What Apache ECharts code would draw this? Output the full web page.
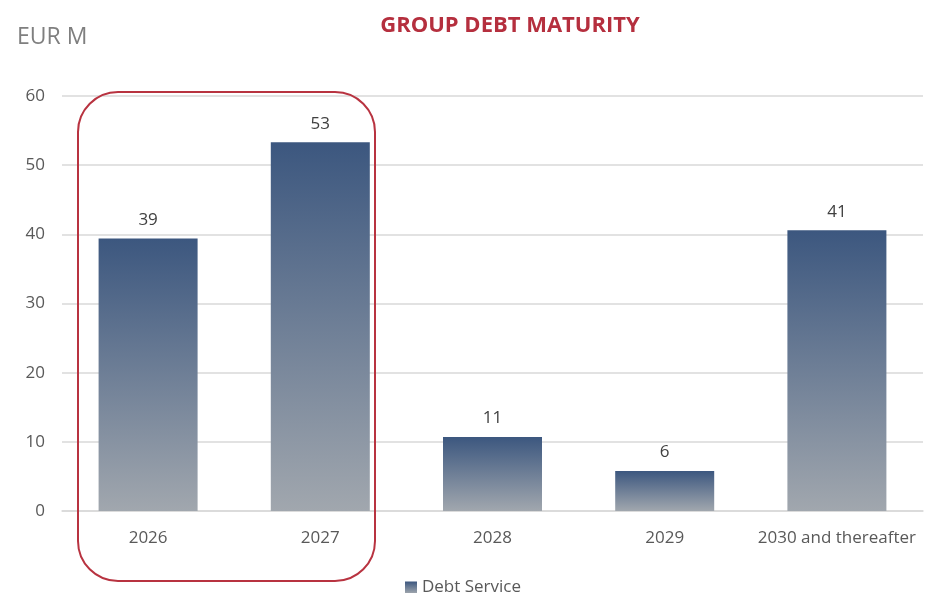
<!DOCTYPE html>
<html>
<head>
<meta charset="utf-8">
<script src="https://cdn.jsdelivr.net/npm/echarts@6/dist/echarts.min.js"></script>
<style>
  html, body { margin: 0; padding: 0; background: #fff; }
  #chart { width: 926px; height: 593px; }
</style>
</head>
<body>
<div id="chart"></div>
<script>
// 数据
var categories = ['2026', '2027', '2028', '2029', '2030 and thereafter'];
var debtService = [39.4, 53.3, 10.7, 5.8, 40.6];
var yTicks = { min: 0, max: 60, interval: 10 };

var chart = echarts.init(document.getElementById('chart'));
var font = '"Open Sans", "Noto Sans", sans-serif';

var barFill = new echarts.graphic.LinearGradient(0, 0, 0, 1, [
  { offset: 0, color: '#3c577f' },
  { offset: 1, color: '#a1a7ae' }
]);

var option = {
  animation: false,
  textStyle: { fontFamily: font },
  title: [
    {
      text: 'GROUP DEBT MATURITY',
      left: 505, top: 10, textAlign: 'center',
      textStyle: { color: '#b52f3e', fontSize: 22, fontWeight: 'bold', fontFamily: font }
    },
    {
      text: 'EUR M',
      left: 12, top: 21,
      textStyle: { color: '#7f7f7f', fontSize: 23, fontWeight: 'normal', fontFamily: font }
    }
  ],
  legend: {
    top: 574, left: 'center',
    icon: 'rect',
    itemWidth: 12, itemHeight: 12, itemGap: 5,
    textStyle: { color: '#595959', fontSize: 17, fontFamily: font },
    data: ['Debt Service']
  },
  grid: { left: 62, right: 3, top: 96, bottom: 82 },
  xAxis: {
    type: 'category',
    data: categories,
    axisLine: { lineStyle: { color: '#d9d9d9', width: 1.5 } },
    axisTick: { show: false },
    axisLabel: { color: '#595959', fontSize: 17, margin: 19, interval: 0, fontFamily: font }
  },
  yAxis: {
    type: 'value',
    min: yTicks.min, max: yTicks.max, interval: yTicks.interval,
    axisLine: { show: false },
    axisTick: { show: false },
    splitLine: { lineStyle: { color: '#d9d9d9', width: 1.5 } },
    axisLabel: { color: '#595959', fontSize: 17, margin: 17, fontFamily: font }
  },
  series: [{
    name: 'Debt Service',
    type: 'bar',
    data: debtService,
    barWidth: 99,
    itemStyle: { color: barFill },
    label: {
      show: true, position: 'top', distance: 10,
      color: '#404040', fontSize: 17, fontFamily: font,
      formatter: function (p) { return Math.round(p.value); }
    }
  }],
  graphic: [{
    type: 'rect',
    shape: { x: 78, y: 92, width: 297, height: 489, r: 40 },
    style: { fill: 'none', stroke: '#b83340', lineWidth: 2 },
    z: 10
  }]
};

chart.setOption(option);
window.onresize = function () { chart.resize(); };
</script>
</body>
</html>
